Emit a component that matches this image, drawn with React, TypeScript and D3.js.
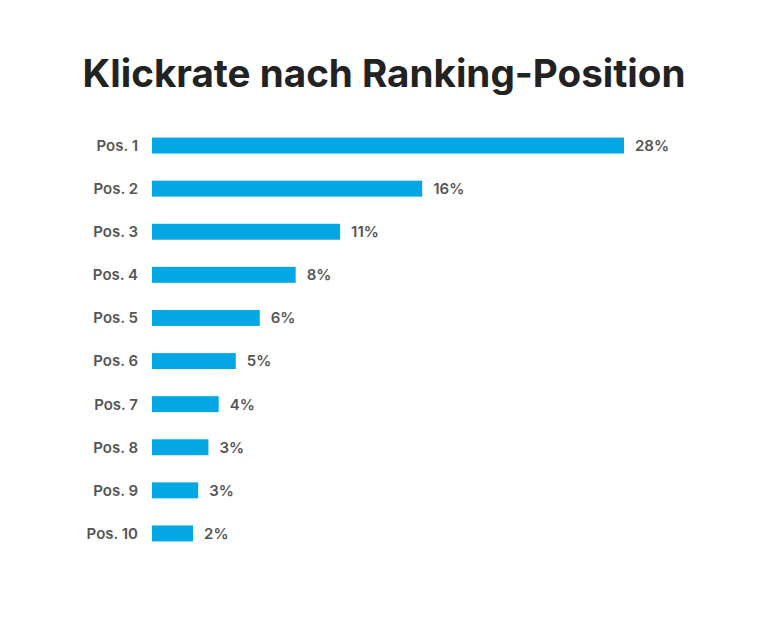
import React from "react";
import * as d3 from "d3";

const categories = ["Pos. 1", "Pos. 2", "Pos. 3", "Pos. 4", "Pos. 5", "Pos. 6", "Pos. 7", "Pos. 8", "Pos. 9", "Pos. 10"];
const values = [27.6, 15.8, 11.0, 8.4, 6.3, 4.9, 3.9, 3.3, 2.7, 2.4];
const valueLabels = ["28%", "16%", "11%", "8%", "6%", "5%", "4%", "3%", "3%", "2%"];
const title = "Klickrate nach Ranking-Position";

const W = 768;
const H = 624;

export default function App() {
  const x = d3.scaleLinear().domain([0, 27.6]).range([152, 624]);
  const y = d3.scaleBand<string>().domain(categories).range([124, 555]).paddingInner(0.63).paddingOuter(0.315);
  const font = "Inter, 'Noto Sans', sans-serif";
  return (
    <svg width={W} height={H} style={{ position: "absolute", left: 0, top: 0, background: "#fff" }}>
      <rect x={0} y={0} width={W} height={H} fill="#ffffff" />
      <text x={384} y={87} textAnchor="middle" fontFamily={font} fontWeight={700} fontSize={38.6} fill="#222222">
        {title}
      </text>
      {categories.map((c, i) => {
        const yy = y(c)!;
        const bw = y.bandwidth();
        return (
          <g key={c}>
            <text x={138} y={yy + bw / 2} dy="0.36em" textAnchor="end" fontFamily={font} fontWeight={600} fontSize={15} fill="#555555">
              {c}
            </text>
            <rect x={x(0)} y={yy} width={x(values[i]) - x(0)} height={bw} fill="#02a7e4" />
            <text x={x(values[i]) + 11} y={yy + bw / 2} dy="0.36em" fontFamily={font} fontWeight={600} fontSize={15} fill="#555555">
              {valueLabels[i]}
            </text>
          </g>
        );
      })}
    </svg>
  );
}
